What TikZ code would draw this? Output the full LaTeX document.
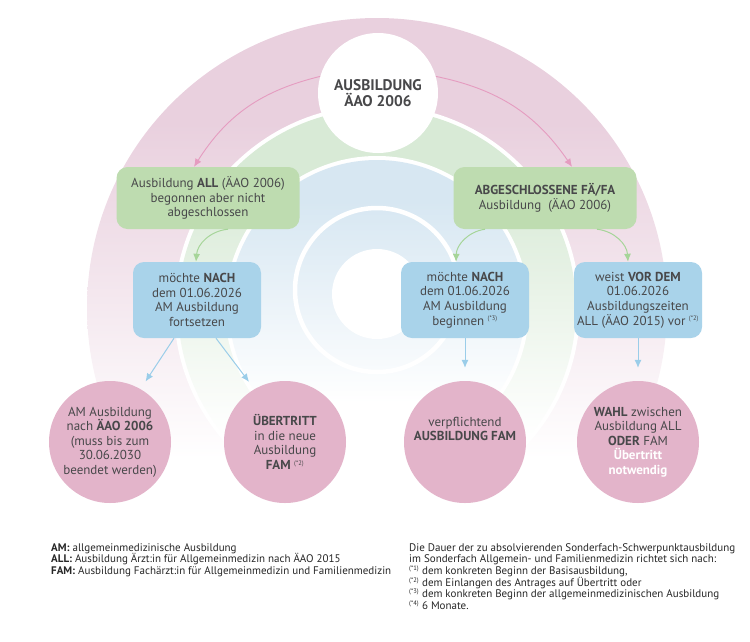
\documentclass[tikz,border=0pt]{standalone}
\usepackage{fontspec}
\setmainfont{PT Sans}
\usetikzlibrary{positioning,calc,arrows.meta}
\definecolor{ringpink}{HTML}{E9D0DE}
\definecolor{ringgreen}{HTML}{D8EAD6}
\definecolor{ringblue}{HTML}{D7E7F2}
\definecolor{boxgreen}{HTML}{BEDCB0}
\definecolor{boxblue}{HTML}{A9D3EA}
\definecolor{dotpink}{HTML}{E3B4CA}
\definecolor{txtgrey}{HTML}{48484A}
\definecolor{arrpink}{HTML}{E59CC0}
\definecolor{arrgreen}{HTML}{A6D599}
\definecolor{arrblue}{HTML}{9ACDE9}
\pgfdeclareverticalshading{fadepink}{100bp}{color(0bp)=(white); color(37bp)=(white); color(51bp)=(ringpink!50); color(66bp)=(ringpink); color(100bp)=(ringpink)}
\pgfdeclareverticalshading{fadegreen}{100bp}{color(0bp)=(white); color(34bp)=(white); color(50bp)=(ringgreen!50); color(66bp)=(ringgreen); color(100bp)=(ringgreen)}
\pgfdeclareverticalshading{fadeblue}{100bp}{color(0bp)=(white); color(34bp)=(white); color(51bp)=(ringblue!50); color(68bp)=(ringblue); color(100bp)=(ringblue)}
\newcommand{\supmark}[1]{\textsuperscript{\fontsize{6.5}{6.5}\selectfont(*#1)}}

\begin{document}
\begin{tikzpicture}[x=1pt,y=1pt,
		every node/.style={text=txtgrey},
		greenbox/.style={fill=boxgreen,rounded corners=11pt,minimum width=183pt,minimum height=62pt,align=center,inner sep=0pt,font=\fontsize{13}{14.7}\selectfont},
		bluebox/.style={fill=boxblue,rounded corners=11pt,minimum width=128pt,minimum height=76pt,align=center,inner sep=0pt,font=\fontsize{13}{14.7}\selectfont},
		pinkdot/.style={circle,fill=dotpink,minimum size=122pt,align=center,inner sep=0pt,font=\fontsize{13}{14.6}\selectfont},
		lnk/.style={-{Latex[length=8pt,width=7pt]},line width=1pt},
		legend/.style={anchor=north west,align=left,inner sep=0pt,text=black!85,font=\fontsize{11}{11.7}\selectfont}]
	\useasboundingbox (0,0) rectangle (750,-641);
	\coordinate (C) at (377,-308);
	\shade[shading=fadepink] (C) circle (290);
	\fill[white] (C) circle (203);
	\shade[shading=fadegreen] (C) circle (199);
	\fill[white] (C) circle (152);
	\shade[shading=fadeblue] (C) circle (148);
	\draw[white,line width=4.5pt] (377,-290) circle (82);
	\fill[white] (377,-294) circle (45);

	\node[circle,fill=white,minimum size=120pt,align=center,font=\bfseries\fontsize{15.4}{16.5}\selectfont] (top) at (378,-93) {AUSBILDUNG\\ÄAO 2006};

	\node[greenbox] (gl) at (208,-198) {Ausbildung \textbf{ALL} (ÄAO 2006)\\begonnen aber nicht\\abgeschlossen};
	\node[greenbox] (gr) at (545,-198) {\textbf{ABGESCHLOSSENE FÄ/FA}\\Ausbildung\ \ (ÄAO 2006)};

	\node[bluebox] (b1) at (197,-300) {möchte \textbf{NACH}\\dem 01.06.2026\\AM Ausbildung\\fortsetzen};
	\node[bluebox] (b2) at (465,-300) {möchte \textbf{NACH}\\dem 01.06.2026\\AM Ausbildung\\beginnen \supmark{3}};
	\node[bluebox] (b3) at (638,-300) {weist \textbf{VOR DEM}\\01.06.2026\\Ausbildungszeiten\\ALL (ÄAO 2015) vor \supmark{2}};

	\node[pinkdot] (p1) at (110,-442) {AM Ausbildung\\nach \textbf{ÄAO 2006}\\(muss bis zum\\30.06.2030\\beendet werden)};
	\node[pinkdot] (p2) at (285,-442) {\textbf{ÜBERTRITT}\\in die neue\\Ausbildung\\\textbf{FAM} \supmark{2}};
	\node[pinkdot] (p3) at (465,-442) {verpflichtend\\\textbf{AUSBILDUNG FAM}\\[12pt]};
	\node[pinkdot] (p4) at (638,-442) {\textbf{WAHL} zwischen\\Ausbildung ALL\\\textbf{ODER} FAM\\\textcolor{white}{\textbf{Übertritt}}\\\textcolor{white}{\textbf{notwendig}}};

	\draw[lnk,arrpink,line width=0.9pt] (top.164) to[bend right=22] ([xshift=-14pt]gl.north);
	\draw[lnk,arrpink,line width=0.9pt] (top.16) to[bend left=22] ([xshift=27pt]gr.north);
	\draw[lnk,arrgreen] ([xshift=20pt]gl.south) to[bend right=40] ([xshift=-1pt]b1.north);
	\draw[lnk,arrgreen] ([xshift=-60pt]gr.south) to[bend right=40] ([xshift=-9pt]b2.north);
	\draw[lnk,arrgreen] ([xshift=52pt]gr.south) to[bend left=40] ([xshift=-10pt]b3.north);
	\draw[lnk,arrblue,shorten >=9pt] ([xshift=-23pt]b1.south) -- (p1.60);
	\draw[lnk,arrblue,shorten >=9pt] ([xshift=19pt]b1.south) -- (p2.120);
	\draw[lnk,arrblue,shorten >=13pt] (b2.south) -- (p3.north);
	\draw[lnk,arrblue,shorten >=13pt] (b3.south) -- (p4.north);

	\node[legend] (keyl) at (51,-543) {\textbf{AM:} allgemeinmedizinische Ausbildung\\
		\textbf{ALL:} Ausbildung Ärzt:in für Allgemeinmedizin nach ÄAO 2015\\
		\textbf{FAM:} Ausbildung Fachärzt:in für Allgemeinmedizin und Familienmedizin};
	\node[legend] (keyr) at (409,-543) {Die Dauer der zu absolvierenden Sonderfach-Schwerpunktausbildung\\
		im Sonderfach Allgemein- und Familienmedizin richtet sich nach:\\
		\supmark{1} dem konkreten Beginn der Basisausbildung,\\
		\supmark{2} dem Einlangen des Antrages auf Übertritt oder\\
		\supmark{3} dem konkreten Beginn der allgemeinmedizinischen Ausbildung\\
		\supmark{4} 6 Monate.};
\end{tikzpicture}
\end{document}
